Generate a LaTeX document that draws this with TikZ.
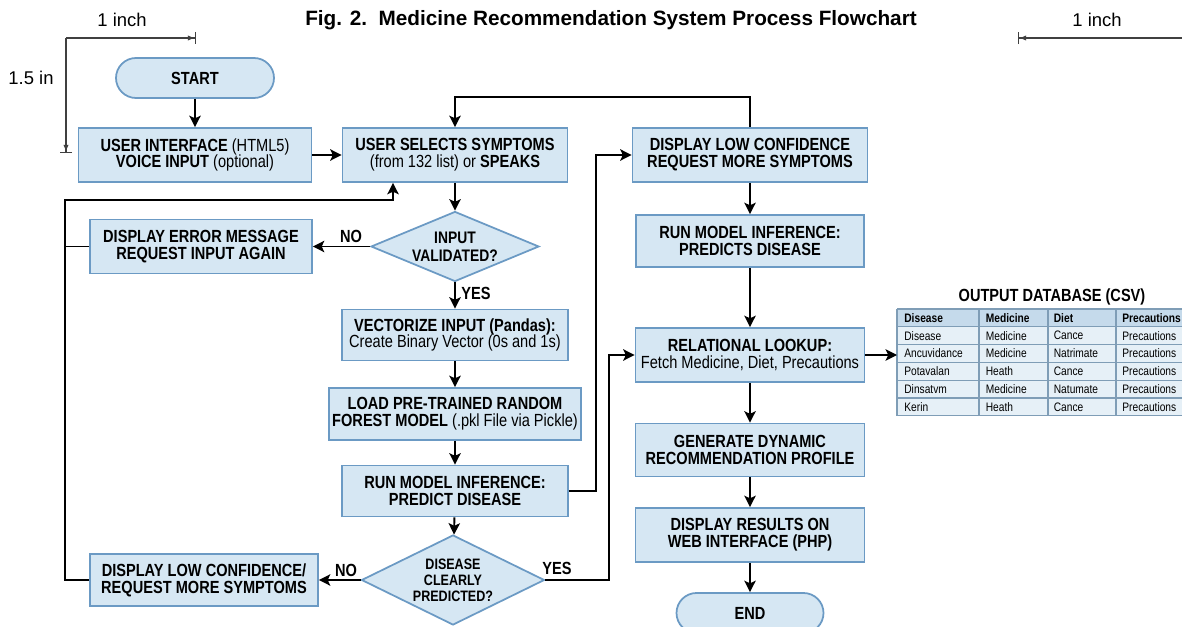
\documentclass[tikz,border=0pt]{standalone}
\usepackage{fontspec}
\setmainfont{Liberation Sans}
\newfontfamily\narrowfont{Liberation Sans}[FakeStretch=0.83]
\usetikzlibrary{arrows.meta,shapes.geometric}

\definecolor{boxfill}{HTML}{D6E7F3}
\definecolor{boxline}{HTML}{6B9AC4}
\definecolor{headfill}{HTML}{C5DAEB}
\definecolor{rowfill}{HTML}{E6F0F7}
\definecolor{dbline}{HTML}{7F9DB6}

\tikzset{
  procbox/.style={draw=boxline,fill=boxfill,line width=1pt,minimum height=1.08cm,
    align=center,inner sep=2pt,font=\narrowfont\fontsize{10}{9.6}\selectfont},
  boldbox/.style={procbox,font=\narrowfont\bfseries\fontsize{10}{9.6}\selectfont},
  termbox/.style={boldbox,rounded corners=0.4cm,minimum height=0.8cm},
  decbox/.style={draw=boxline,fill=boxfill,line width=1pt,diamond,inner sep=0pt},
  arrowline/.style={line width=1.1pt,-{Stealth[length=6.5pt,width=6.5pt,inset=1.5pt]}},
  joinline/.style={line width=1.1pt},
  answer/.style={font=\narrowfont\bfseries\fontsize{10}{12}\selectfont},
  dimline/.style={line width=0.6pt,black!75,-{Latex[length=4pt,width=3pt]Bar[width=7pt]}},
  dbcell/.style={anchor=west,inner sep=0pt,font=\narrowfont\fontsize{7}{8}\selectfont},
}

\begin{document}
\begin{tikzpicture}
  \useasboundingbox (0,0) rectangle (23.64,12.52);
  \clip (0,0) rectangle (23.64,12.52);

  % title and margin marks
  \node[font=\bfseries\fontsize{11.8}{13}\selectfont] (title) at (12.22,12.12)
    {Fig. 2.\ \ Medicine Recommendation System Process Flowchart};
  \node[font=\fontsize{10.5}{12}\selectfont] (inchL) at (2.44,12.12) {1 inch};
  \node[font=\fontsize{10.5}{12}\selectfont] (inchR) at (21.94,12.12) {1 inch};
  \node[font=\fontsize{10.5}{12}\selectfont] (inchV) at (0.62,10.96) {1.5 in};
  \coordinate (dimO) at (1.32,11.76);
  \coordinate (dimA) at (3.92,11.76);
  \coordinate (dimB) at (1.32,9.46);
  \coordinate (dimC) at (23.64,11.76);
  \coordinate (dimD) at (20.36,11.76);
  \draw[dimline] (dimO) -- (dimA);
  \draw[dimline] (dimO) -- (dimB);
  \draw[dimline] (dimC) -- (dimD);

  % left column
  \node[termbox,minimum width=3.16cm] (start) at (3.90,10.96) {START};
  \node[procbox,minimum width=4.66cm] (ui) at (3.90,9.42)
    {\textbf{USER INTERFACE} (HTML5)\\\textbf{VOICE INPUT} (optional)};
  \node[boldbox,minimum width=4.44cm] (err) at (4.02,7.59)
    {DISPLAY ERROR MESSAGE\\REQUEST INPUT AGAIN};
  \node[boldbox,minimum width=4.56cm,minimum height=1.04cm] (lowbot) at (4.08,0.92)
    {DISPLAY LOW CONFIDENCE/\\REQUEST MORE SYMPTOMS};

  % middle column
  \node[procbox,minimum width=4.5cm] (sel) at (9.10,9.42)
    {\textbf{USER SELECTS SYMPTOMS}\\(from 132 list) or \textbf{SPEAKS}};
  \node[decbox,minimum width=3.36cm,minimum height=1.40cm,
    label={[font=\narrowfont\bfseries\fontsize{9.5}{10.4}\selectfont,align=center]center:INPUT\\VALIDATED?}]
    (valid) at (9.10,7.59) {};
  \node[procbox,minimum width=4.52cm,minimum height=1.02cm] (vec) at (9.10,5.82)
    {\textbf{VECTORIZE INPUT (Pandas):}\\Create Binary Vector (0s and 1s)};
  \node[procbox,minimum width=4.52cm,minimum height=1.04cm] (load) at (9.10,4.24)
    {\textbf{LOAD PRE-TRAINED RANDOM}\\\textbf{FOREST MODEL} (.pkl File via Pickle)};
  \node[boldbox,minimum width=4.52cm,minimum height=1.02cm] (runL) at (9.10,2.70)
    {RUN MODEL INFERENCE:\\PREDICT DISEASE};
  \node[decbox,minimum width=3.66cm,minimum height=1.80cm,
    label={[font=\narrowfont\bfseries\fontsize{8.6}{9.2}\selectfont,align=center]center:DISEASE\\CLEARLY\\PREDICTED?}]
    (clear) at (9.06,0.92) {};

  % right column
  \node[boldbox,minimum width=4.7cm] (lowtop) at (15.0,9.42)
    {DISPLAY LOW CONFIDENCE\\REQUEST MORE SYMPTOMS};
  \node[boldbox,minimum width=4.56cm,minimum height=1.04cm] (runR) at (15.0,7.70)
    {RUN MODEL INFERENCE:\\PREDICTS DISEASE};
  \node[procbox,minimum width=4.58cm] (rel) at (15.0,5.42)
    {\textbf{RELATIONAL LOOKUP:}\\Fetch Medicine, Diet, Precautions};
  \node[boldbox,minimum width=4.58cm,minimum height=1.06cm] (gen) at (15.0,3.52)
    {GENERATE DYNAMIC\\RECOMMENDATION PROFILE};
  \node[boldbox,minimum width=4.58cm] (disp) at (15.0,1.82)
    {DISPLAY RESULTS ON\\WEB INTERFACE (PHP)};
  \node[termbox,minimum width=2.94cm] (end) at (15.0,0.26) {END};

  % output table
  \node[answer] (dbtitle) at (21.04,6.58) {OUTPUT DATABASE (CSV)};
  \fill[headfill] (17.94,6.34) rectangle (23.8,5.984);
  \fill[rowfill] (17.94,5.984) rectangle (23.8,4.204);
  \foreach \y in {6.34,5.984,5.628,5.272,4.916,4.56,4.204}
    \draw[dbline,line width=0.7pt] (17.94,\y) -- (23.8,\y);
  \foreach \x in {17.94,19.58,20.96,22.32}
    \draw[dbline,line width=0.7pt] (\x,6.34) -- (\x,4.204);
  \foreach \t/\x [count=\k] in {Disease/18.08,Medicine/19.71,Diet/21.07,Precautions/22.44}
    \node[dbcell,font=\narrowfont\bfseries\fontsize{7}{8}\selectfont] (head\k) at (\x,6.162) {\t};
  \foreach \a/\b/\c/\d [count=\r, evaluate=\r as \yy using 5.806-0.356*(\r-1)] in
    {Disease/Medicine/Cance/Precautions,Ancuvidance/Medicine/Natrimate/Precautions,
     Potavalan/Heath/Cance/Precautions,Dinsatvm/Medicine/Natumate/Precautions,
     Kerin/Heath/Cance/Precautions}{
    \node[dbcell] (dis\r) at (18.08,\yy) {\a};
    \node[dbcell] (med\r) at (19.71,\yy) {\b};
    \node[dbcell] (diet\r) at (21.07,\yy) {\c};
    \node[dbcell] (prec\r) at (22.44,\yy) {\d};
  }
  \coordinate (dbin) at (17.94,5.42);

  % main flow
  \draw[arrowline] (start) -- (ui);
  \draw[arrowline] (ui) -- (sel);
  \draw[arrowline] (sel) -- (valid);
  \draw[arrowline] (valid) -- (err);
  \draw[arrowline] (valid) -- (vec);
  \draw[arrowline] (vec) -- (load);
  \draw[arrowline] (load) -- (runL);
  \draw[arrowline] (runL) -- (clear);
  \draw[arrowline] (clear) -- (lowbot);
  \draw[arrowline] (lowtop) -- (runR);
  \draw[arrowline] (runR) -- (rel);
  \draw[arrowline] (rel) -- (gen);
  \draw[arrowline] (gen) -- (disp);
  \draw[arrowline] (disp) -- (end);
  \draw[arrowline] (rel.east) -- (dbin);

  % feedback loops
  \coordinate (loopL) at (1.30,8.52);
  \coordinate (loopR) at (7.86,8.52);
  \draw[arrowline] (lowbot.west) -| (loopL) -- (loopR) -- (loopR |- sel.south);
  \draw[joinline] (err.west) -- (err.west -| loopL);
  \draw[arrowline] (lowtop.north) -- ++(0,0.6) -| (sel.north);
  \draw[arrowline] (runL.east) -- ++(0.54,0) |- (lowtop.west);
  \draw[arrowline] (clear.east) -- ++(1.27,0) |- (rel.west);

  % branch labels
  \node[answer] (no1) at (7.02,7.80) {NO};
  \node[answer] (yes1) at (9.52,6.66) {YES};
  \node[answer] (no2) at (6.92,1.12) {NO};
  \node[answer] (yes2) at (11.14,1.16) {YES};
\end{tikzpicture}
\end{document}
